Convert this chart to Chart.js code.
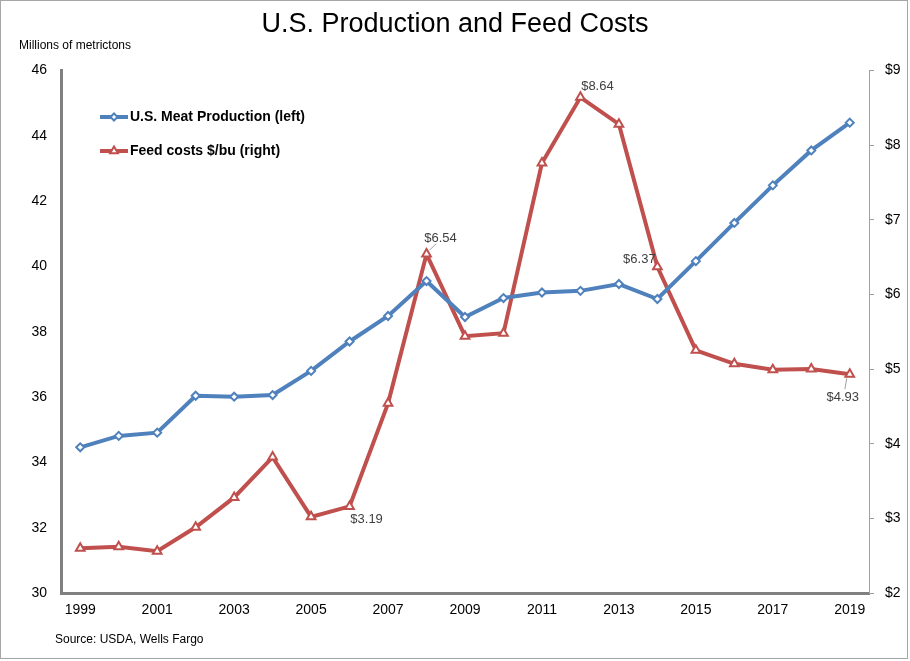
<!DOCTYPE html>
<html>
<head>
<meta charset="utf-8">
<script src="https://cdn.jsdelivr.net/npm/chart.js@4.4.1/dist/chart.umd.min.js"></script>
<style>
  html, body { margin: 0; padding: 0; background: #fff; }
  #wrap { width: 910px; height: 661px; }
</style>
</head>
<body>
<div id="wrap"><canvas id="chart" width="910" height="661"></canvas></div>
<script>
const years = ['1999','2000','2001','2002','2003','2004','2005','2006','2007','2008','2009',
               '2010','2011','2012','2013','2014','2015','2016','2017','2018','2019'];
const meatProduction = [34.46, 34.81, 34.91, 36.04, 36.01, 36.06, 36.8, 37.7, 38.48, 39.55, 38.45,
                        39.03, 39.2, 39.25, 39.46, 39.0, 40.16, 41.33, 42.48, 43.55, 44.4];
const feedCosts = [2.60, 2.62, 2.56, 2.88, 3.28, 3.82, 3.02, 3.16, 4.54, 6.54, 5.44,
                   5.48, 7.76, 8.64, 8.28, 6.37, 5.25, 5.07, 4.99, 5.00, 4.93];
const leftTicks = [30, 32, 34, 36, 38, 40, 42, 44, 46];
const rightTicks = [2, 3, 4, 5, 6, 7, 8, 9];
const labelledYears = ['2006', '2008', '2012', '2014', '2019'];
const labelText = ['$3.19', '$6.54', '$8.64', '$6.37', '$4.93'];

const BLUE = '#4f81bd';
const RED = '#c0504d';

Chart.defaults.font.family = "'Liberation Sans', Arial, sans-serif";
Chart.defaults.color = '#000';

// where each data label sits relative to its point, and whether it gets a leader line
const labelPlace = {
  '2006': { dx: 17, dy: 13, leader: false },
  '2008': { dx: 14, dy: -16, leader: true },
  '2012': { dx: 17, dy: -11, leader: false },
  '2014': { dx: -18, dy: -7, leader: false },
  '2019': { dx: -7, dy: 23, leader: true }
};

const extras = {
  id: 'extras',
  afterDraw(chart) {
    const ctx = chart.ctx;
    ctx.save();
    // frame
    ctx.strokeStyle = '#a6a6a6';
    ctx.lineWidth = 1;
    ctx.strokeRect(0.5, 0.5, 907, 658);

    ctx.fillStyle = '#000';
    ctx.font = "12px 'Liberation Sans', Arial, sans-serif";
    ctx.textAlign = 'left';
    ctx.textBaseline = 'middle';
    ctx.fillText('Millions of metrictons', 19, 46);
    ctx.fillText('Source: USDA, Wells Fargo', 55, 640);

    // data labels on the feed cost line
    const meta = chart.getDatasetMeta(1);
    ctx.font = "13px 'Liberation Sans', Arial, sans-serif";
    ctx.textAlign = 'center';
    labelledYears.forEach((yr, i) => {
      const idx = years.indexOf(yr);
      const pt = meta.data[idx];
      const p = labelPlace[yr];
      if (p.leader) {
        ctx.strokeStyle = '#a0a0a0';
        ctx.lineWidth = 1;
        ctx.beginPath();
        ctx.moveTo(pt.x + Math.sign(p.dx) * 3, pt.y + Math.sign(p.dy) * 4);
        ctx.lineTo(pt.x + p.dx * 0.7, pt.y + p.dy * 0.65);
        ctx.stroke();
      }
      ctx.fillStyle = '#404040';
      ctx.fillText(labelText[i], pt.x + p.dx, pt.y + p.dy);
    });

    // legend inside the plot
    const items = [
      { text: 'U.S. Meat Production (left)', color: BLUE, style: 'rectRot', r: 3.5, y: 117 },
      { text: 'Feed costs $/bu (right)', color: RED, style: 'triangle', r: 4.5, y: 151 }
    ];
    items.forEach(it => {
      ctx.strokeStyle = it.color;
      ctx.lineWidth = 4;
      ctx.beginPath();
      ctx.moveTo(100, it.y);
      ctx.lineTo(128, it.y);
      ctx.stroke();
      ctx.fillStyle = '#fff';
      ctx.strokeStyle = it.color;
      ctx.lineWidth = 2;
      Chart.helpers.drawPoint(ctx, { pointStyle: it.style, radius: it.r, borderWidth: 2 }, 114, it.y);
      ctx.fillStyle = '#000';
      ctx.font = "bold 14px 'Liberation Sans', Arial, sans-serif";
      ctx.textAlign = 'left';
      ctx.fillText(it.text, 130, it.y);
    });
    ctx.restore();
  }
};

new Chart(document.getElementById('chart'), {
  type: 'line',
  data: {
    labels: years,
    datasets: [
      {
        label: 'U.S. Meat Production (left)',
        data: meatProduction,
        yAxisID: 'y',
        borderColor: BLUE,
        borderWidth: 4,
        pointStyle: 'rectRot',
        pointRadius: 4,
        pointBorderWidth: 2,
        pointBackgroundColor: '#fff',
        pointBorderColor: BLUE,
        tension: 0
      },
      {
        label: 'Feed costs $/bu (right)',
        data: feedCosts,
        yAxisID: 'y1',
        borderColor: RED,
        borderWidth: 4,
        pointStyle: 'triangle',
        pointRadius: 5,
        pointBorderWidth: 2,
        pointBackgroundColor: '#fff',
        pointBorderColor: RED,
        tension: 0
      }
    ]
  },
  options: {
    responsive: false,
    animation: false,
    layout: { padding: { top: 0, left: 0, right: 0, bottom: 0 } },
    plugins: {
      legend: { display: false },
      tooltip: { enabled: false },
      title: {
        display: true,
        text: 'U.S. Production and Feed Costs',
        color: '#000',
        font: { size: 27, weight: 'normal' },
        padding: { top: 8, bottom: 30 }
      }
    },
    scales: {
      x: {
        offset: true,
        grid: { display: true, drawOnChartArea: false, drawTicks: false },
        border: { display: true, color: '#808080', width: 3 },
        ticks: {
          autoSkip: false,
          maxRotation: 0,
          padding: 9,
          font: { size: 14 },
          callback: function(v, i) { return i % 2 === 0 ? years[i] : ''; }
        },
        afterFit(scale) { scale.height = 68; }
      },
      y: {
        position: 'left',
        min: 30,
        max: 46,
        afterBuildTicks(scale) { scale.ticks = leftTicks.map(v => ({ value: v })); },
        grid: { display: true, drawOnChartArea: false, drawTicks: false },
        border: { display: true, color: '#808080', width: 3 },
        ticks: { padding: 14, font: { size: 14 } },
        afterFit(scale) { scale.width = 61; }
      },
      y1: {
        position: 'right',
        min: 2,
        max: 9,
        afterBuildTicks(scale) { scale.ticks = rightTicks.map(v => ({ value: v })); },
        grid: { display: true, drawOnChartArea: false, drawTicks: true, tickLength: 5, color: '#a0a0a0' },
        border: { display: true, color: '#a0a0a0', width: 1 },
        ticks: { padding: 11, font: { size: 14 }, callback: v => '$' + v },
        afterFit(scale) { scale.width = 41; }
      }
    }
  },
  plugins: [extras]
});
</script>
</body>
</html>
